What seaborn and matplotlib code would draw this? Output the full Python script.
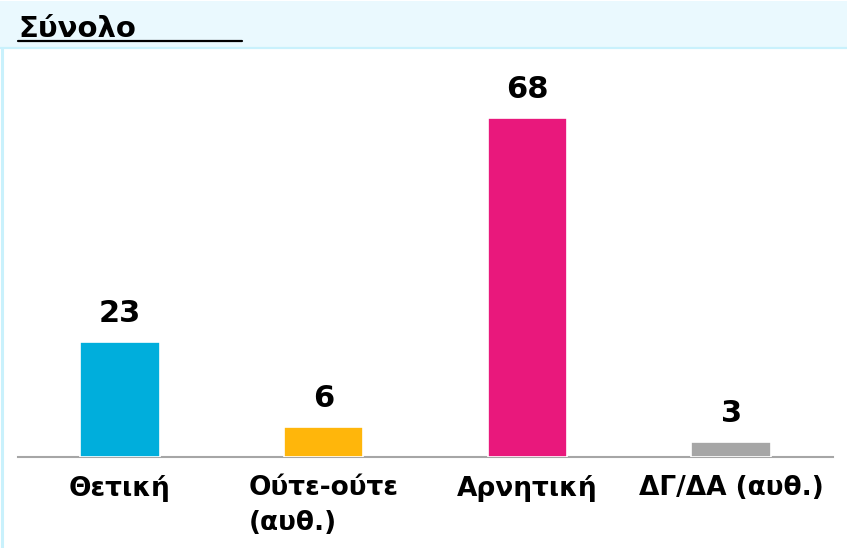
import matplotlib
matplotlib.use("Agg")
import matplotlib.pyplot as plt
import seaborn as sns
import pandas as pd
from matplotlib.lines import Line2D
from matplotlib.patches import Rectangle

# --- data ---
categories = ["Θετική", "Ούτε-ούτε\n(αυθ.)", "Αρνητική", "ΔΓ/ΔΑ (αυθ.)"]
values = [23, 6, 68, 3]
bar_colors = ["#00AEDC", "#FFB60B", "#E9187C", "#A6A6A6"]
title_text = "Σύνολο"

df = pd.DataFrame({"Category": categories, "Value": values})

sns.set_theme(style="white")
plt.rcParams['font.family'] = ['DejaVu Sans']

W, H = 847, 548
fig = plt.figure(figsize=(W / 100, H / 100), dpi=100)
fig.patch.set_facecolor("white")

# header band + borders
fig.patches.append(Rectangle((0, 1 - 47 / H), 1, 46 / H, transform=fig.transFigure,
                             facecolor="#EAF9FE", edgecolor="none", zorder=0))
fig.lines.append(Line2D([0, 1], [1 - 48 / H, 1 - 48 / H], transform=fig.transFigure,
                        color="#C9F1FC", lw=1.6))
fig.lines.append(Line2D([1.5 / W, 1.5 / W], [0, 1 - 48 / H], transform=fig.transFigure,
                        color="#C9F1FC", lw=2.2))

# title with underline
fig.text(18 / W, 1 - 37 / H, title_text, fontsize=21, fontweight="bold",
         ha="left", va="baseline", color="black")
fig.lines.append(Line2D([18 / W, 242 / W], [1 - 41 / H, 1 - 41 / H],
                        transform=fig.transFigure, color="black", lw=1.6))

ax = fig.add_axes([18 / W, (H - 457) / H, 815 / W, 397 / H])
ax.set_facecolor("none")
sns.barplot(data=df, x="Category", y="Value", hue="Category", palette=bar_colors,
            saturation=1, legend=False, width=0.39, edgecolor="white",
            linewidth=1.2, ax=ax, zorder=3)

ax.set_xlim(-0.5, 3.5)
ax.set_ylim(0, 79.6)
for s in ["top", "right", "left"]:
    ax.spines[s].set_visible(False)
ax.spines["bottom"].set_color("#A6A6A6")
ax.spines["bottom"].set_linewidth(1.5)
ax.spines["bottom"].set_zorder(2)
ax.set_yticks([])
ax.set_xlabel("")
ax.set_ylabel("")
ax.tick_params(axis="x", length=0, pad=13)
for lbl in ax.get_xticklabels():
    lbl.set_fontsize(19)
    lbl.set_fontweight("bold")
    lbl.set_color("black")
    lbl.set_multialignment("left")
    lbl.set_linespacing(1.45)

for i, v in enumerate(values):
    ax.annotate(f"{v}", (i, v), xytext=(0, 10), textcoords="offset points",
                ha="center", va="bottom", fontsize=22, fontweight="bold",
                color="black")

fig.savefig("out.png", dpi=100)
